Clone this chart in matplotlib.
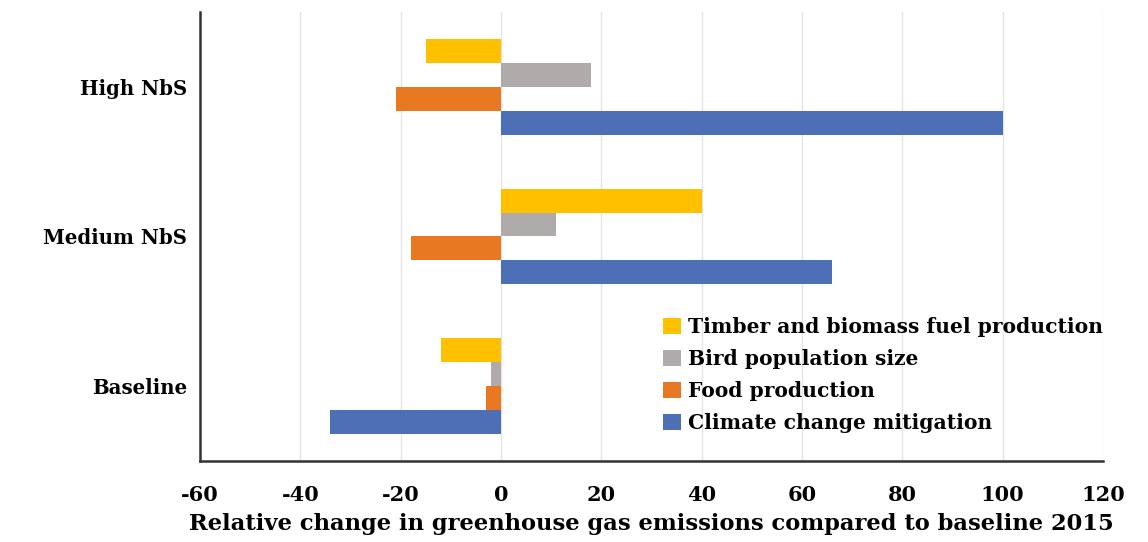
import numpy as np
import matplotlib
matplotlib.use("Agg")
import matplotlib.pyplot as plt
from matplotlib.patches import Patch

# categories bottom -> top
scenarios = ["Baseline", "Medium NbS", "High NbS"]
series = [
    "Timber and biomass fuel production",
    "Bird population size",
    "Food production",
    "Climate change mitigation",
]
timber = [-12, 40, -15]
bird = [-2, 11, 18]
food = [-3, -18, -21]
climate = [-34, 66, 100]
xticks = [-60, -40, -20, 0, 20, 40, 60, 80, 100, 120]

colors = ["#FFC000", "#AEABAA", "#E97822", "#4D6FB5"]
offsets = [0.24, 0.08, -0.08, -0.24]
bar_h = 0.16

plt.rcParams["font.family"] = ["DejaVu Serif"]
plt.rcParams["font.weight"] = "bold"

fig = plt.figure(figsize=(11.48, 5.42), dpi=100)
ax = fig.add_axes([0.1742, 0.1494, 0.9608 - 0.1742, 0.978 - 0.1494])

y = np.arange(len(scenarios))
for vals, c, off in zip([timber, bird, food, climate], colors, offsets):
    ax.barh(y + off, vals, height=bar_h, color=c, edgecolor="none", zorder=3)

ax.set_xlim(-60, 120)
ax.set_ylim(-0.5, 2.5)
ax.set_xticks(xticks)
ax.set_xticklabels([str(t) for t in xticks], fontsize=15, fontweight="bold")
ax.set_yticks(y)
ax.set_yticklabels(scenarios, fontsize=14.2, fontweight="bold")
ax.tick_params(axis="x", length=0, pad=17)
ax.tick_params(axis="y", length=0, pad=9)
ax.grid(axis="x", color="#E4E4E4", lw=1.0, zorder=0)
for s in ["top", "right"]:
    ax.spines[s].set_visible(False)
ax.spines["left"].set_color("#333333")
ax.spines["left"].set_linewidth(1.8)
ax.spines["bottom"].set_color("#333333")
ax.spines["bottom"].set_linewidth(1.8)
ax.set_xlabel("Relative change in greenhouse gas emissions compared to baseline 2015",
              fontsize=16.3, fontweight="bold", labelpad=6)

handles = [Patch(facecolor=c, edgecolor="none") for c in colors]
leg = ax.legend(handles, series, loc="upper left", bbox_to_anchor=(0.5127, 0.320),
                frameon=False, fontsize=14.6, handlelength=0.89, handleheight=0.84,
                handletextpad=0.35, labelspacing=0.59, borderpad=0, borderaxespad=0)
for t in leg.get_texts():
    t.set_fontweight("bold")

fig.savefig("out.png", dpi=100)
